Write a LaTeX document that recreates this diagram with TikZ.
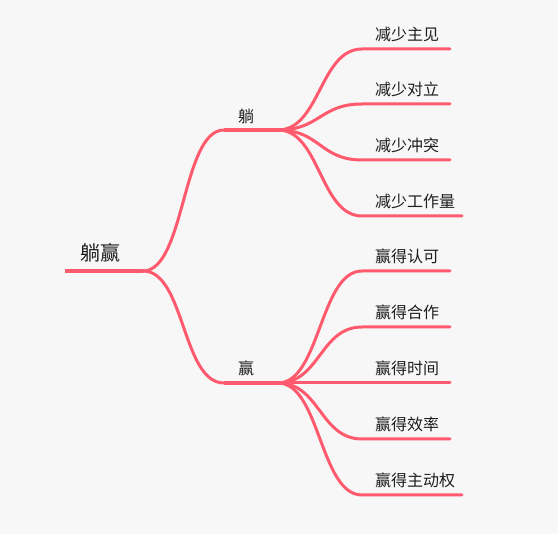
\documentclass[tikz,border=0pt]{standalone}
\usepackage{fontspec}
\setmainfont{Noto Sans CJK SC}
\usetikzlibrary{calc}
\definecolor{linec}{HTML}{FF5A6E}
\definecolor{bgc}{HTML}{F7F7F7}
\definecolor{txtc}{HTML}{1E1E1E}
\tikzset{
  conn/.style={draw=linec, line width=3pt, line cap=round},
  rootline/.style={draw=linec, line width=4pt},
  leaftext/.style={anchor=west, inner sep=0pt, text=txtc, font=\fontsize{16}{18}\selectfont},
  branchtext/.style={anchor=center, inner sep=0pt, text=txtc, font=\fontsize{16}{18}\selectfont},
  roottext/.style={anchor=center, inner sep=0pt, text=txtc, font=\fontsize{20}{22}\selectfont},
}
\begin{document}
\begin{tikzpicture}[x=1pt,y=-1pt]
\fill[bgc] (0,0) rectangle (558,534);
\useasboundingbox (0,0) rectangle (558,534);

% root
\node[roottext] (root) at (100,253) {躺赢};
\coordinate (rootL) at (65,271);
\coordinate (rootR) at (143,271);
\draw[rootline] (rootL) -- (rootR);

% branches
\node[branchtext] (b1) at (246,116) {躺};
\node[branchtext] (b2) at (246,368) {赢};
\coordinate (b1L) at (224,130);
\coordinate (b1R) at (278,130);
\coordinate (b2L) at (224,383);
\coordinate (b2R) at (278,383);
\draw[rootline] (b1L) -- (b1R);
\draw[rootline] (b2L) -- (b2R);

\draw[conn] (rootR) .. controls ($(rootR)+(42,0)$) and ($(b1L)-(42,0)$) .. (b1L);
\draw[conn] (rootR) .. controls ($(rootR)+(42,0)$) and ($(b2L)-(42,0)$) .. (b2L);

% leaves of branch 1
\foreach \name/\y/\txt/\len in {l1/49/减少主见/88, l2/104/减少对立/88, l3/160/减少冲突/88, l4/216/减少工作量/100}{
  \node[leaftext] (\name) at (375,\y-15) {\txt};
  \coordinate (\name L) at (362,\y);
  \coordinate (\name R) at (362+\len,\y);
  \draw[conn] (b1R) .. controls ($(b1R)+(42,0)$) and ($(\name L)-(42,0)$) .. (\name L) -- (\name R);
}
% leaves of branch 2
\foreach \name/\y/\txt/\len in {m1/271/赢得认可/88, m2/327/赢得合作/88, m3/383/赢得时间/88, m4/439/赢得效率/88, m5/495/赢得主动权/100}{
  \node[leaftext] (\name) at (375,\y-15) {\txt};
  \coordinate (\name L) at (362,\y);
  \coordinate (\name R) at (362+\len,\y);
  \draw[conn] (b2R) .. controls ($(b2R)+(42,0)$) and ($(\name L)-(42,0)$) .. (\name L) -- (\name R);
}
\end{tikzpicture}
\end{document}
